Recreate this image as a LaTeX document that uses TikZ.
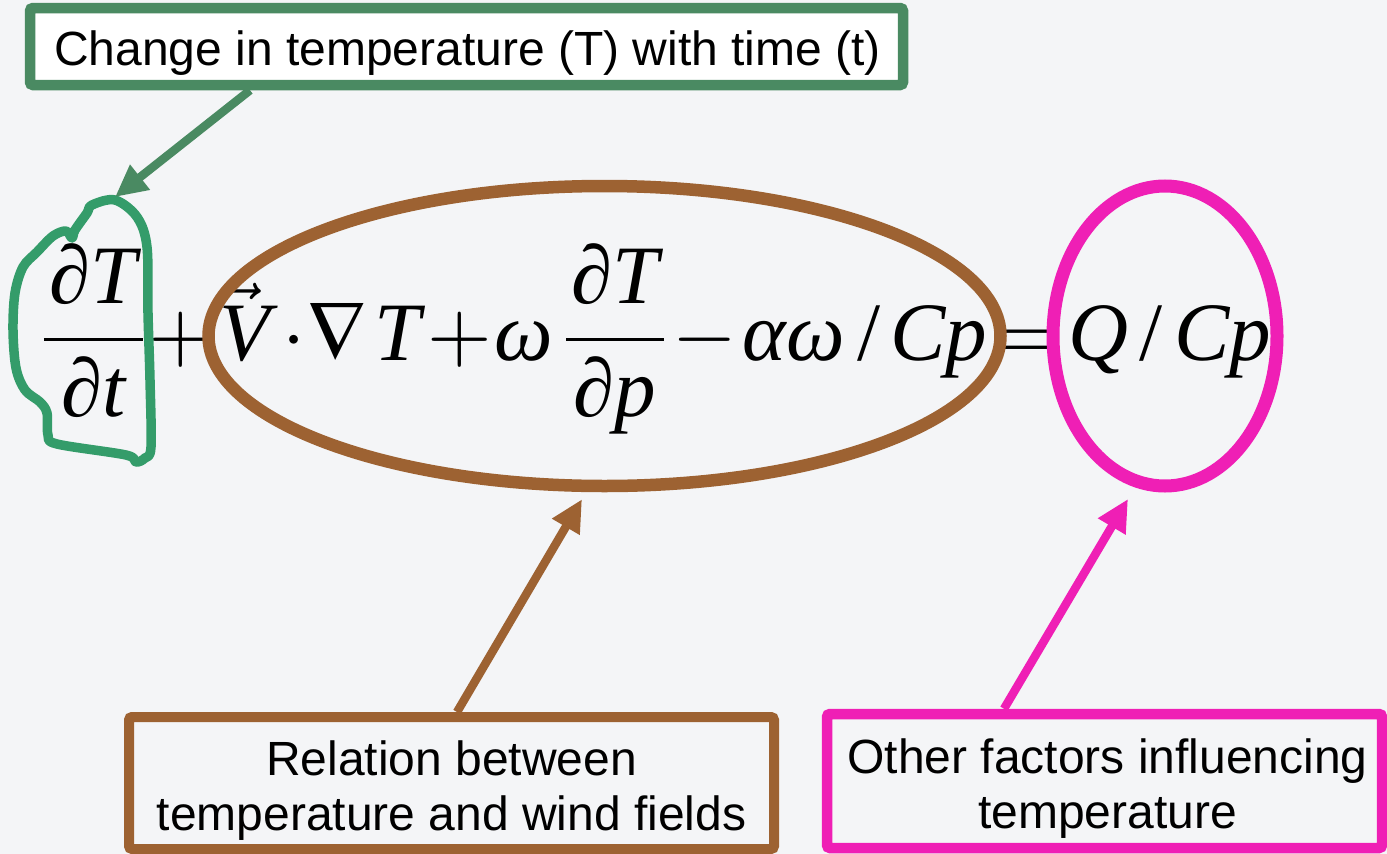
\documentclass[tikz,border=0pt]{standalone}
\usepackage{mathptmx}
\usepackage[no-math]{fontspec}
\setmainfont{Liberation Sans}
\newfontfamily\tnr{Liberation Serif}
\newcommand{\tvar}[1]{\mbox{\tnr\itshape #1}}
\usetikzlibrary{arrows.meta,shapes.geometric}
\definecolor{bg}{RGB}{244,245,247}
\definecolor{boxgreen}{RGB}{74,138,98}
\definecolor{loopgreen}{RGB}{52,156,106}
\definecolor{brownc}{RGB}{157,98,50}
\definecolor{pinkc}{RGB}{239,31,181}
\begin{document}
\begin{tikzpicture}[x=1pt,y=-1pt,
  lbl/.style={font=\fontsize{48}{55}\selectfont, inner sep=0pt, anchor=base},
  eq/.style={font=\fontsize{83}{100}\selectfont, inner sep=0pt, anchor=base},
  boxframe/.style={draw, rectangle, inner sep=0pt, rounded corners=3pt},
  arr/.style={-{Triangle[length=32pt,width=30pt]}, line width=8.5pt},
]
\fill[bg] (0,0) rectangle (1387,854);
\useasboundingbox (0,0) rectangle (1387,854);

% equation
\node[eq] (f1) at (93.5,360) {$\displaystyle\frac{\kern6pt\tvar{∂T}\kern6pt}{\tvar{∂t}}$};
\node[eq] (p1) at (181,360) {$+$};
\node[eq] (vV) at (245,360) {$\vec{\tvar{V}}$};
\node[eq] (dot) at (294,360) {$\cdot$};
\node[eq] (nab) at (337,360) {$\nabla$};
\node[eq] (T1) at (398,360) {\tvar{T}};
\node[eq] (p2) at (460,360) {$+$};
\node[eq] (om) at (524,360) {\tvar{ω}};
\node[eq] (f2) at (615,360) {$\displaystyle\frac{\kern5pt\tvar{∂T}\kern5pt}{\tvar{∂p}}$};
\node[eq] (mi) at (704.5,360) {$-$};
\node[eq] (aw) at (794,360) {\tvar{αω}};
\node[eq] (sl1) at (869.5,360) {{\tnr /}};
\node[eq] (cp1) at (938.5,360) {\tvar{Cp}};
\node[eq] (eqs) at (1026.5,360) {$=$};
\node[eq] (Q) at (1098.5,360) {\tvar{Q}};
\node[eq] (sl2) at (1151,360) {{\tnr /}};
\node[eq] (cp2) at (1222.5,360) {\tvar{Cp}};

% ellipses
\node[ellipse, draw=brownc, line width=12.5pt, minimum width=792pt, minimum height=300pt, inner sep=0pt] (ellB) at (604.5,336) {};
\node[ellipse, draw=pinkc, line width=13pt, minimum width=224pt, minimum height=300pt, inner sep=0pt] (ellP) at (1165,336) {};

% loop
\draw[loopgreen, line width=9.5pt, line join=round] plot[smooth cycle, tension=0.55] coordinates {
 (92,205) (115,200) (137,217) (147,247) (148,313) (150,380) (151,447) (145,458) (136,462) (126,455)
 (57,444) (48,435) (47,413) (40,402) (25,390) (16,368) (13,330) (15,293) (23,267) (37,252)
 (53,236) (66,231) (72,238) (75,230) (87,213)};

% boxes
\node[boxframe, draw=boxgreen, line width=10.5pt, fill=white, minimum width=873pt, minimum height=77pt] (topbox) at (466.5,46.5) {};
\node[lbl] (toptext) at (467.5,65) {Change in temperature (T) with time (t)};

\node[boxframe, draw=brownc, line width=10pt, minimum width=645pt, minimum height=132pt] (relbox) at (451.5,783) {};
\node[lbl] (rel1) at (451.5,775) {Relation between};
\node[lbl] (rel2) at (451.5,830) {temperature and wind fields};

\node[boxframe, draw=pinkc, line width=10.5pt, minimum width=555pt, minimum height=134pt] (othbox) at (1104.5,781) {};
\node[lbl] (oth1) at (1107.5,773) {Other factors influencing};
\node[lbl] (oth2) at (1107.5,828) {temperature};

% arrows
\coordinate (gtip) at (115,197);
\draw[arr, boxgreen] ([xshift=-216.5pt]topbox.south) -- (gtip);
\draw[arr, brownc] ([xshift=5.5pt]relbox.north) -- ([xshift=-22.5pt,yshift=-7pt]ellB.south);
\draw[arr, pinkc] ([xshift=-100.5pt]othbox.north) -- ([xshift=-37pt,yshift=-6.5pt]ellP.south);
\end{tikzpicture}
\end{document}
